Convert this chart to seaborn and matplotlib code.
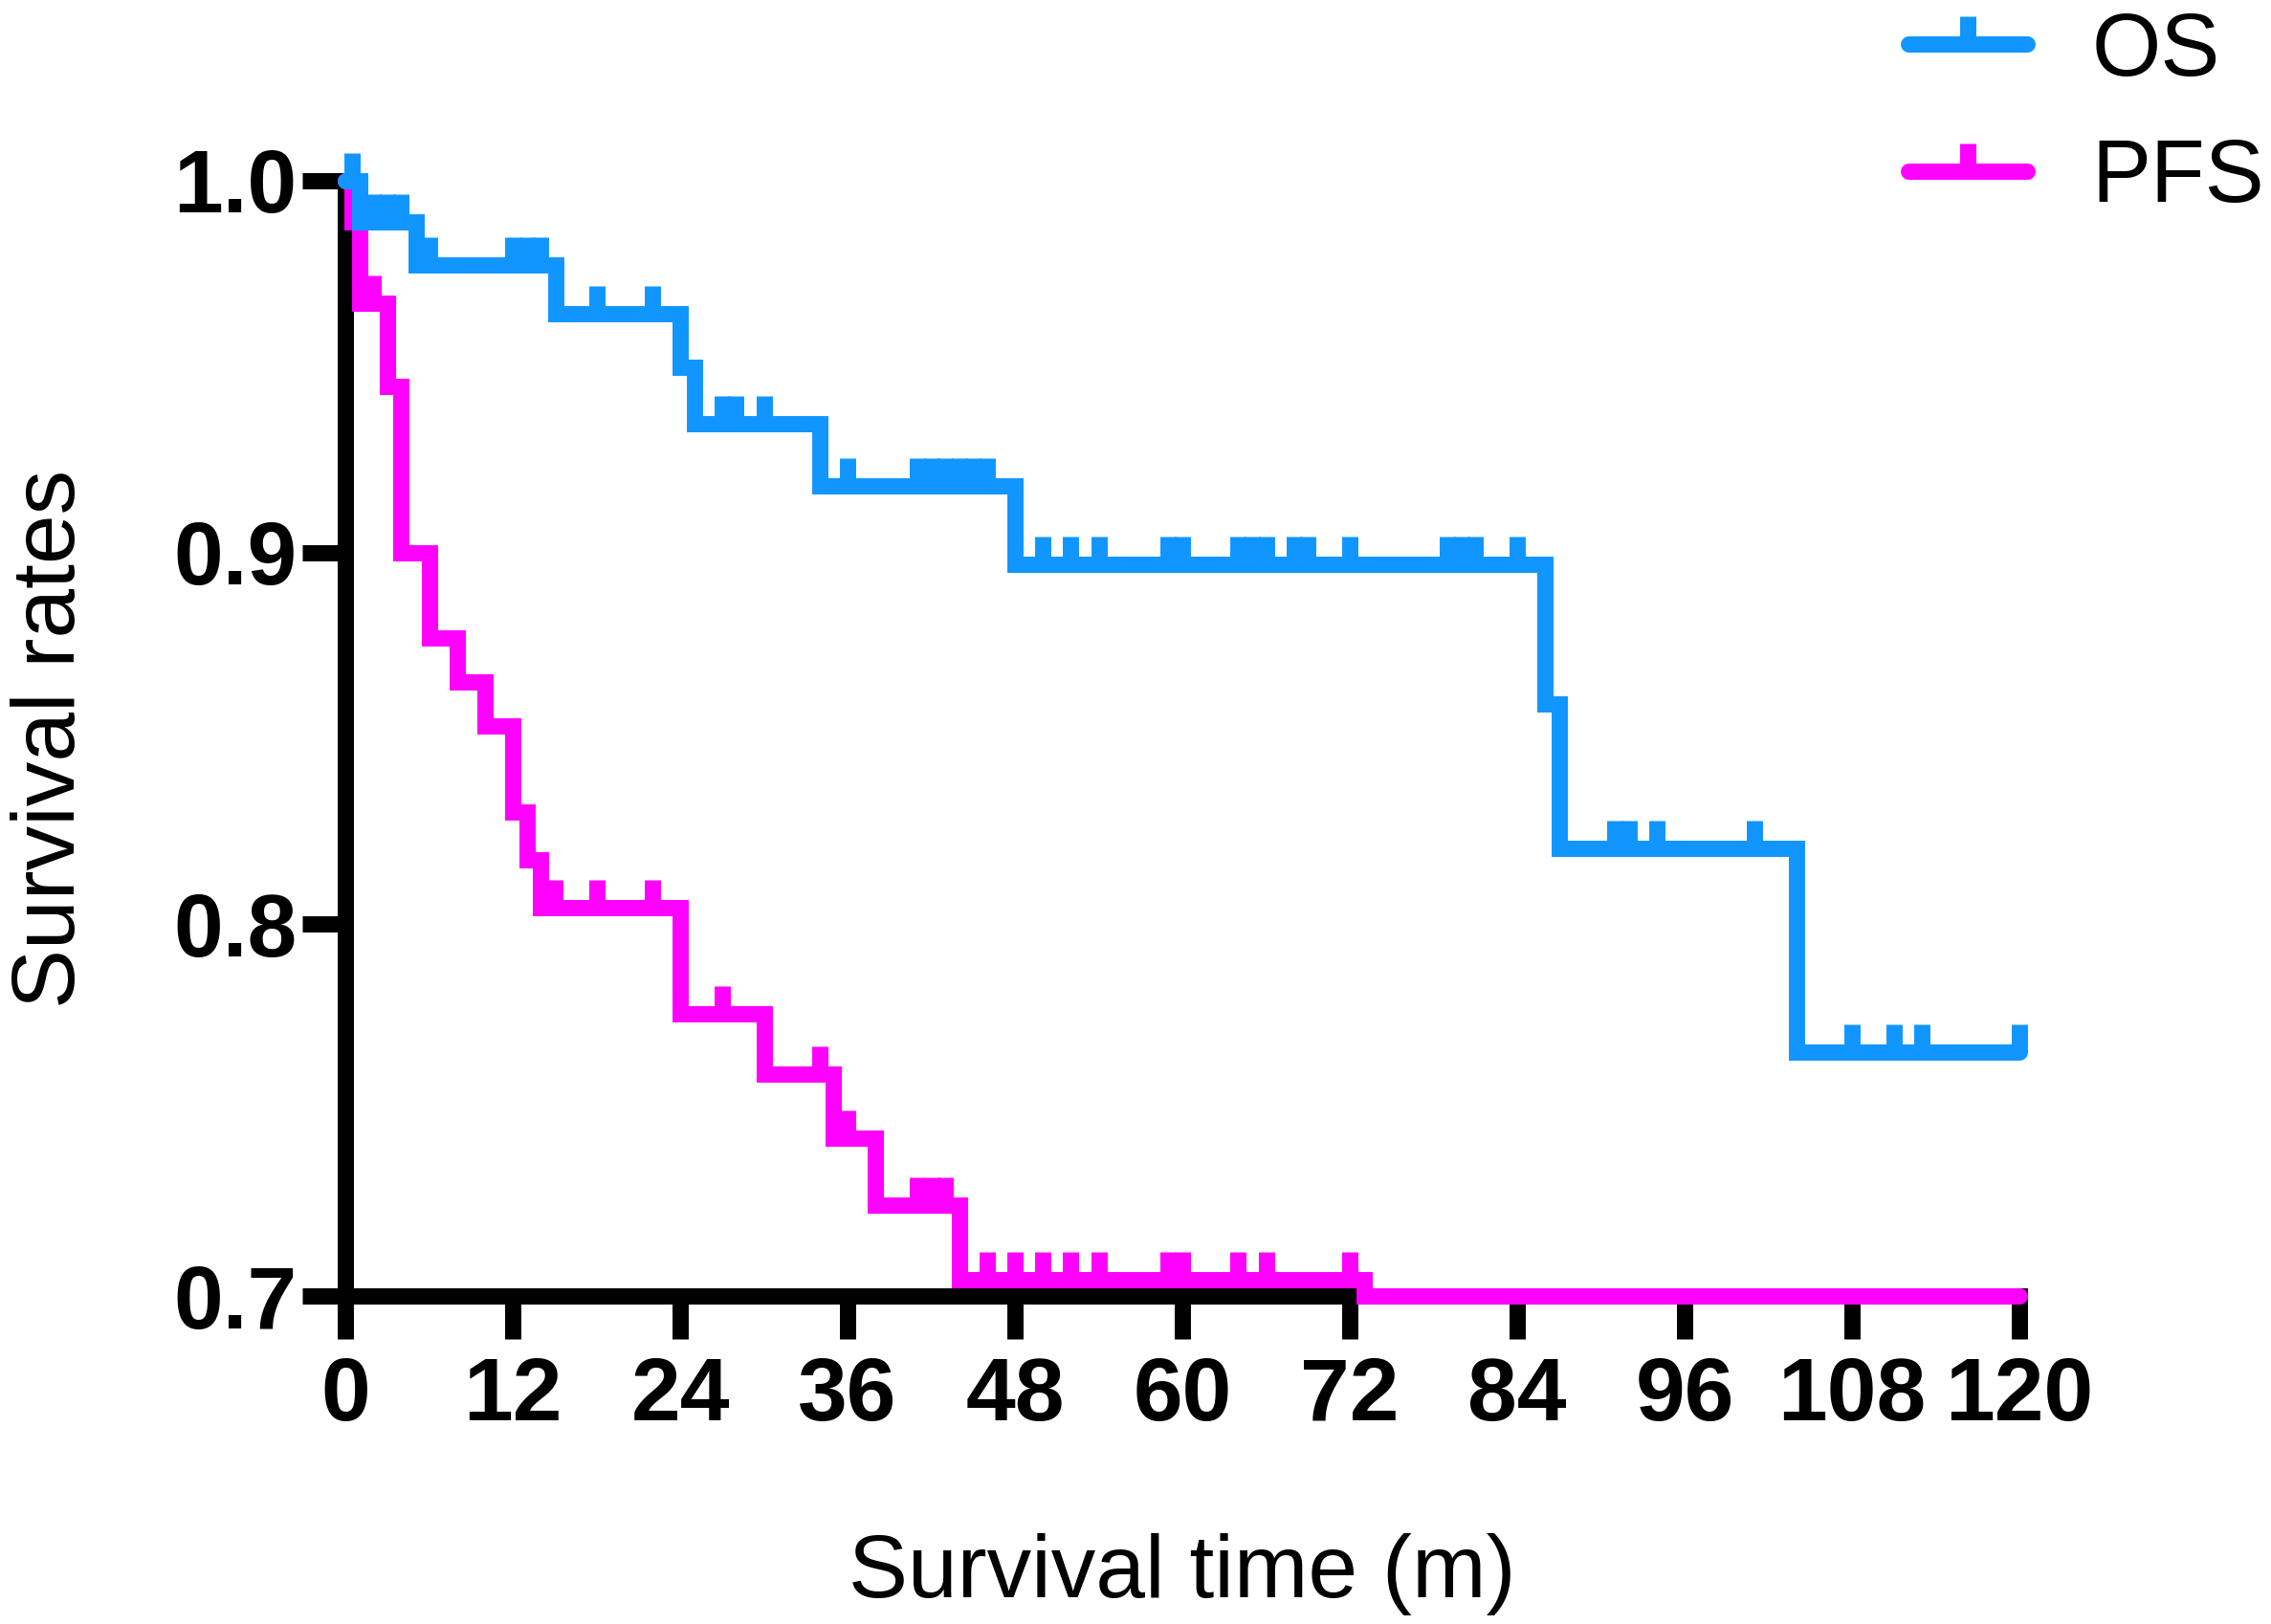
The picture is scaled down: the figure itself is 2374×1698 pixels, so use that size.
import numpy as np
import matplotlib
matplotlib.use('Agg')
import matplotlib.pyplot as plt
from matplotlib.lines import Line2D
import seaborn as sns

# ---- data (months / survival proportion) ----
# OS steps: time of each event and survival after it
os_time = [0, 1.0, 5.1, 15.1, 24.0, 25.0, 34.0, 48.0, 86.0, 87.0, 104.0, 120.0]
os_surv = [1.0, 0.989, 0.9774, 0.9642, 0.9498, 0.9346, 0.9179, 0.8968,
           0.8593, 0.8204, 0.7656, 0.7656]
# OS censored times
os_cens = [0.5, 2.0, 3.0, 4.0, 6.0, 12.0, 13.0, 14.0, 18.0, 22.0, 27.0, 28.0,
           30.0, 36.0, 41, 42, 43, 44, 45, 46, 50, 52, 54, 59, 60, 64, 65, 66,
           68, 69, 72, 79, 80, 81, 84, 91, 92, 94, 101, 108, 111, 113, 120]

# PFS steps
pfs_time = [0, 0.5, 1.0, 3.0, 4.0, 6.0, 8.0, 10.0, 12.0, 13.0, 14.0, 24.0,
            30.0, 35.0, 38.0, 44.0, 73.0, 120.0]
pfs_surv = [1.0, 0.989, 0.967, 0.9446, 0.900, 0.8769, 0.8652, 0.8533, 0.8301,
            0.8174, 0.8045, 0.7758, 0.7597, 0.7425, 0.7245, 0.7044, 0.700, 0.700]
# PFS censored times
pfs_cens = [2.0, 15.0, 18.0, 22.0, 27.0, 34.0, 36.0, 41, 42, 43, 46, 48, 50,
            52, 54, 59, 60, 64, 66, 72]

x_ticks = [0, 12, 24, 36, 48, 60, 72, 84, 96, 108, 120]
y_ticks = [0.7, 0.8, 0.9, 1.0]

os_color = '#1196FF'
pfs_color = '#FF00FF'


def surv_at(times, surv, t):
    # value of the step curve at the censored times
    idx = np.searchsorted(times, t, side='right') - 1
    return np.asarray(surv)[idx]


sns.set_style('ticks')
plt.rcParams['font.family'] = ['Liberation Sans', 'DejaVu Sans']
plt.rcParams['text.color'] = 'black'
plt.rcParams['axes.labelcolor'] = 'black'
plt.rcParams['xtick.labelcolor'] = 'black'
plt.rcParams['ytick.labelcolor'] = 'black'

fs = 33.5
lw = 6.1
tick_len = 10.3

fig = plt.figure(figsize=(11.87, 8.49), dpi=200)
ax = fig.add_axes([0.1521, 0.2020, 0.7371, 0.6867])

for t, s, c, cens, z in [(pfs_time, pfs_surv, pfs_color, pfs_cens, 3),
                         (os_time, os_surv, os_color, os_cens, 4)]:
    sns.lineplot(x=t, y=s, drawstyle='steps-post', color=c, linewidth=lw,
                 estimator=None, sort=False, ax=ax, zorder=z, clip_on=False,
                 solid_capstyle='round', solid_joinstyle='miter')
    sns.scatterplot(x=cens, y=surv_at(t, s, cens), marker=2, s=tick_len ** 2,
                    color=c, linewidth=lw, ax=ax, zorder=z, clip_on=False)

ax.set_xlim(0, 120)
ax.set_ylim(0.7, 1.0)
ax.set_xticks(x_ticks)
ax.set_yticks(y_ticks)
ax.set_yticklabels([f'{v:.1f}' for v in y_ticks])
sns.despine(ax=ax)
for sp in ['left', 'bottom']:
    ax.spines[sp].set_linewidth(lw)
    ax.spines[sp].set_color('black')
ax.tick_params(axis='both', width=lw, length=16.2, color='black',
               labelsize=fs, labelcolor='black')
ax.tick_params(axis='x', pad=6.3)
ax.tick_params(axis='y', pad=2)
for lab in ax.get_xticklabels() + ax.get_yticklabels():
    lab.set_fontweight('bold')

ax.set_xlabel('Survival time (m)', fontsize=fs, color='black')
ax.set_ylabel('Survival rates', fontsize=fs, color='black')
ax.xaxis.set_label_coords(0.5, -0.213)
ax.yaxis.set_label_coords(-0.151, 0.5)

handles = [Line2D([0], [0], color=os_color, lw=lw, marker=2, markersize=tick_len,
                  mew=lw, solid_capstyle='round'),
           Line2D([0], [0], color=pfs_color, lw=lw, marker=2, markersize=tick_len,
                  mew=lw, solid_capstyle='round')]
leg = ax.legend(handles, ['OS', 'PFS'], loc='upper left',
                bbox_to_anchor=(0.8402, 0.993), bbox_transform=fig.transFigure,
                frameon=False, fontsize=fs, borderpad=0.0, borderaxespad=0.0,
                handlelength=1.34, handletextpad=0.72, labelspacing=0.5)
for txt in leg.get_texts():
    txt.set_color('black')

fig.savefig('out.png', dpi=200)
